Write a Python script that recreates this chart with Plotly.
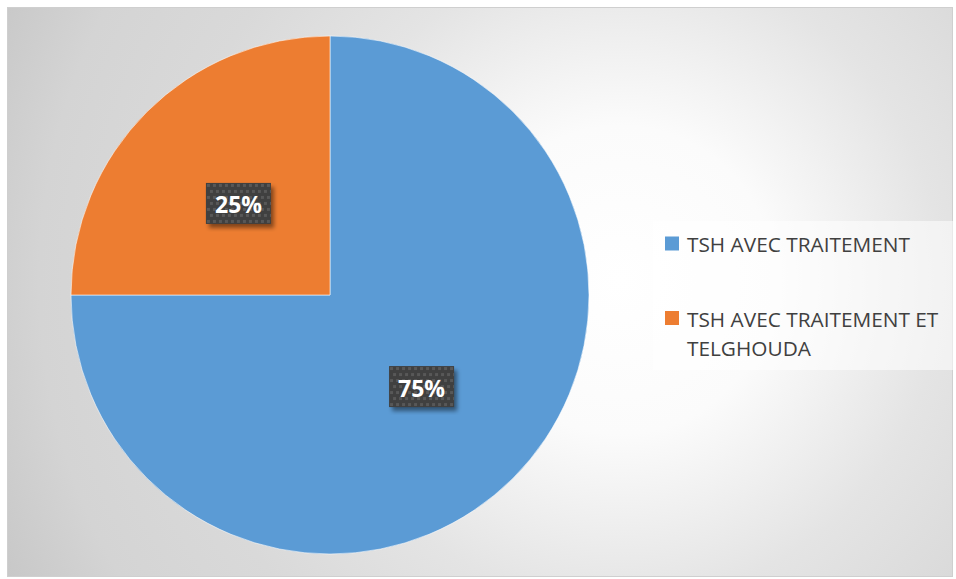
import base64
import math
import plotly.graph_objects as go

# ---- data ----
labels = ["TSH AVEC TRAITEMENT", "TSH AVEC TRAITEMENT ET TELGHOUDA"]
values = [75, 25]
colors = ["#5B9BD5", "#ED7D31"]
legend_lines = [["TSH AVEC TRAITEMENT"], ["TSH AVEC TRAITEMENT ET", "TELGHOUDA"]]

W, H = 956, 579
# pie geometry in pixels
CX, CY, R = 330, 295, 259


def px_x(x):
    return x / W


def px_y(y):
    return 1 - y / H


def svg_uri(svg):
    return "data:image/svg+xml;base64," + base64.b64encode(svg.encode()).decode()


# chart-area background: soft radial gradient with a thin frame
FX0, FY0, FX1, FY1 = 7, 7, 953, 577
fw, fh = FX1 - FX0, FY1 - FY0
bg_svg = f"""<svg xmlns='http://www.w3.org/2000/svg' width='{fw}' height='{fh}' viewBox='0 0 {fw} {fh}'>
<defs><radialGradient id='g' gradientUnits='userSpaceOnUse' cx='{620-FX0}' cy='{280-FY0}' r='700'>
<stop offset='0' stop-color='#ffffff'/>
<stop offset='0.22' stop-color='#fbfbfb'/>
<stop offset='0.46' stop-color='#e4e4e4'/>
<stop offset='0.65' stop-color='#d9d9d9'/>
<stop offset='0.83' stop-color='#d4d4d4'/>
<stop offset='0.97' stop-color='#c8c8c8'/>
<stop offset='1' stop-color='#c6c6c6'/>
</radialGradient></defs>
<rect x='0' y='0' width='{fw}' height='{fh}' fill='url(#g)'/>
<rect x='0.5' y='0.5' width='{fw-1}' height='{fh-1}' fill='none' stroke='#cfcfcf' stroke-width='1'/>
</svg>"""

# dark dotted label box with a soft drop shadow
BW, BH, PAD = 65, 41, 8
dots = []
for j in range(0, BH, 6):
    off = 3 if (j // 6) % 2 else 0
    for i in range(off, BW, 6):
        dots.append(f"<rect x='{PAD + i + 1}' y='{PAD + j + 1}' width='3' height='3' fill='#585858'/>")
box_svg = f"""<svg xmlns='http://www.w3.org/2000/svg' width='{BW+2*PAD}' height='{BH+2*PAD}' viewBox='0 0 {BW+2*PAD} {BH+2*PAD}'>
<defs><filter id='s' x='-30%' y='-30%' width='160%' height='160%'><feGaussianBlur stdDeviation='2.2'/></filter>
<clipPath id='c'><rect x='{PAD}' y='{PAD}' width='{BW}' height='{BH}'/></clipPath></defs>
<rect x='{PAD+3}' y='{PAD+4}' width='{BW}' height='{BH}' fill='rgba(0,0,0,0.45)' filter='url(#s)'/>
<rect x='{PAD}' y='{PAD}' width='{BW}' height='{BH}' fill='#404040'/>
<g clip-path='url(#c)'>{''.join(dots)}</g>
</svg>"""

fig = go.Figure()
fig.add_trace(go.Pie(
    labels=labels,
    values=values,
    sort=False,
    direction="clockwise",
    rotation=0,
    marker=dict(colors=colors, line=dict(color="rgba(255,255,255,0.55)", width=1)),
    textinfo="none",
    hoverinfo="label+percent",
    showlegend=False,
    domain=dict(x=[px_x(CX - R), px_x(CX + R)], y=[px_y(CY + R), px_y(CY - R)]),
))

images = [dict(source=svg_uri(bg_svg), xref="paper", yref="paper",
               x=px_x(FX0), y=px_y(FY0), sizex=fw / W, sizey=fh / H,
               xanchor="left", yanchor="top", sizing="stretch", layer="below")]
annotations = []
shapes = []

# percentage labels at half radius, on each slice's mid-angle
total = sum(values)
cum = 0
for v in values:
    frac_mid = (cum + v / 2) / total
    cum += v
    theta = 2 * math.pi * frac_mid
    lx = CX + 0.5 * R * math.sin(theta)
    ly = CY - 0.5 * R * math.cos(theta)
    pct = round(100 * v / total)
    images.append(dict(source=svg_uri(box_svg), xref="paper", yref="paper",
                       x=px_x(lx - BW / 2 - PAD), y=px_y(ly - BH / 2 - PAD),
                       sizex=(BW + 2 * PAD) / W, sizey=(BH + 2 * PAD) / H,
                       xanchor="left", yanchor="top", sizing="stretch", layer="above"))
    annotations.append(dict(text=f"<b>{pct}%</b>", x=px_x(lx), y=px_y(ly + 1),
                            xref="paper", yref="paper", showarrow=False,
                            xanchor="center", yanchor="middle",
                            font=dict(family="Open Sans", size=23, color="white")))

# legend panel
shapes.append(dict(type="rect", xref="paper", yref="paper",
                   x0=px_x(653), x1=px_x(953), y0=px_y(370), y1=px_y(221),
                   fillcolor="rgba(255,255,255,0.55)", line=dict(width=0), layer="above"))
item_y = [243.5, 318]
for k, (lines, c) in enumerate(zip(legend_lines, colors)):
    y0 = item_y[k]
    shapes.append(dict(type="rect", xref="paper", yref="paper",
                       x0=px_x(665), x1=px_x(679), y0=px_y(y0 + 7), y1=px_y(y0 - 7),
                       fillcolor=c, line=dict(width=0), layer="above"))
    for n, line in enumerate(lines):
        annotations.append(dict(text=line, x=px_x(685), y=px_y(y0 + 28.7 * n + 1),
                                xref="paper", yref="paper", showarrow=False,
                                xanchor="left", yanchor="middle",
                                font=dict(family="Open Sans", size=20.8, color="#404040")))

fig.update_layout(
    width=W, height=H,
    margin=dict(l=0, r=0, t=0, b=0),
    paper_bgcolor="white",
    images=images,
    shapes=shapes,
    annotations=annotations,
    showlegend=False,
)

fig.write_html("out.html")
